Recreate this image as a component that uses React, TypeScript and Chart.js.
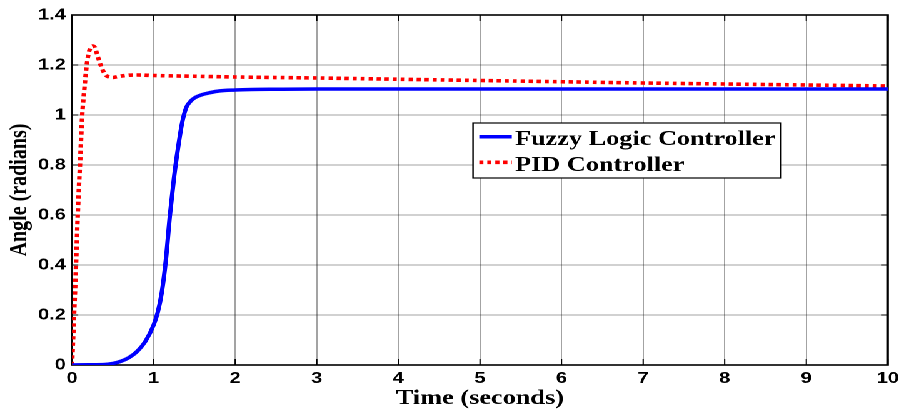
import React, { useEffect, useRef } from 'react';
import { Chart, registerables } from 'chart.js';

Chart.register(...registerables);

// ---- data ----
const fuzzyTime = [0, 0.2, 0.4, 0.5, 0.6, 0.7, 0.8, 0.9, 1.0, 1.05, 1.1, 1.15, 1.2, 1.25, 1.3, 1.35, 1.4, 1.45, 1.5, 1.6, 1.7, 1.8, 2.0, 2.2, 2.5, 3, 10];
const fuzzyAngle = [0, 0.001, 0.002, 0.006, 0.015, 0.03, 0.055, 0.095, 0.16, 0.21, 0.29, 0.42, 0.6, 0.75, 0.87, 0.97, 1.03, 1.054, 1.068, 1.082, 1.09, 1.096, 1.1, 1.102, 1.103, 1.104, 1.104];

const pidTime = [0, 0.01, 0.02, 0.025, 0.05, 0.07, 0.1, 0.125, 0.15, 0.18, 0.21, 0.25, 0.28, 0.31, 0.35, 0.4, 0.45, 0.5, 0.55, 0.65, 0.8, 1.0, 1.5, 2, 3, 4, 5, 6, 7, 8, 9, 10];
const pidAngle = [0, 0.08, 0.16, 0.2, 0.41, 0.6, 0.82, 1.0, 1.1, 1.2, 1.255, 1.276, 1.27, 1.24, 1.2, 1.165, 1.152, 1.15, 1.153, 1.158, 1.16, 1.158, 1.155, 1.152, 1.148, 1.143, 1.138, 1.133, 1.128, 1.124, 1.12, 1.116];

const xTicks = [0, 1, 2, 3, 4, 5, 6, 7, 8, 9, 10];
const yTicks = [0, 0.2, 0.4, 0.6, 0.8, 1, 1.2, 1.4];
const seriesLabels = ['Fuzzy Logic Controller', 'PID Controller'];
const xTitle = 'Time (seconds)';
const yTitle = 'Angle (radians)';

// ---- layout ----
const W = 723;
const H = 411;
const SX = 904 / W;
const SERIF = '"Liberation Serif", "Times New Roman", serif';
const SANS = '"Liberation Sans", Arial, Helvetica, sans-serif';

const framePlugin = {
  id: 'frame',
  beforeDatasetsDraw(chart: any) {
    const { ctx, chartArea: a, scales } = chart;
    ctx.save();
    ctx.strokeStyle = '#000';
    ctx.lineWidth = 1;
    const seg = (x1: number, y1: number, x2: number, y2: number) => {
      ctx.beginPath();
      ctx.moveTo(x1, y1);
      ctx.lineTo(x2, y2);
      ctx.stroke();
    };
    xTicks.forEach((v) => {
      const px = scales.x.getPixelForValue(v);
      seg(px, a.bottom, px, a.bottom - 6);
      seg(px, a.top, px, a.top + 6);
    });
    yTicks.forEach((v) => {
      const py = scales.y.getPixelForValue(v);
      seg(a.left, py, a.left + 5, py);
      seg(a.right, py, a.right - 5, py);
    });
    ctx.lineWidth = 1.6;
    ctx.strokeRect(a.left, a.top, a.right - a.left, a.bottom - a.top);
    ctx.restore();
  },
};

const legendPlugin = {
  id: 'boxLegend',
  afterDatasetsDraw(chart: any) {
    const { ctx } = chart;
    const left = 378.3;
    const right = 624.6;
    const top = 123;
    const bottom = 178;
    ctx.save();
    ctx.fillStyle = '#fff';
    ctx.fillRect(left, top, right - left, bottom - top);
    ctx.strokeStyle = '#000';
    ctx.lineWidth = 1.2;
    ctx.strokeRect(left, top, right - left, bottom - top);
    const rows = [
      { lineY: 136.7, textY: 145 },
      { lineY: 162.3, textY: 171 },
    ];
    chart.data.datasets.forEach((ds: any, i: number) => {
      const r = rows[i];
      ctx.save();
      ctx.strokeStyle = ds.borderColor;
      ctx.lineWidth = ds.borderWidth;
      ctx.setLineDash(ds.borderDash || []);
      ctx.beginPath();
      ctx.moveTo(383.3, r.lineY);
      ctx.lineTo(409.3, r.lineY);
      ctx.stroke();
      ctx.restore();
      ctx.fillStyle = '#000';
      ctx.font = `bold 21px ${SERIF}`;
      ctx.textBaseline = 'alphabetic';
      ctx.textAlign = 'left';
      ctx.fillText(ds.label, 411.9, r.textY);
    });
    ctx.restore();
  },
};

export default function App() {
  const ref = useRef<HTMLCanvasElement | null>(null);

  useEffect(() => {
    if (!ref.current) return;
    const chart = new Chart(ref.current, {
      type: 'line',
      data: {
        datasets: [
          {
            label: seriesLabels[0],
            data: fuzzyTime.map((t, i) => ({ x: t, y: fuzzyAngle[i] })),
            borderColor: '#0000ff',
            backgroundColor: '#0000ff',
            borderWidth: 3.5,
            pointRadius: 0,
            cubicInterpolationMode: 'monotone',
            fill: false,
          },
          {
            label: seriesLabels[1],
            data: pidTime.map((t, i) => ({ x: t, y: pidAngle[i] })),
            borderColor: '#ff0000',
            backgroundColor: '#ff0000',
            borderWidth: 3.6,
            borderDash: [3.3, 3.1],
            pointRadius: 0,
            cubicInterpolationMode: 'monotone',
            fill: false,
          },
        ],
      },
      options: {
        responsive: false,
        animation: false,
        devicePixelRatio: 2,
        layout: { padding: { left: 0, right: W - 710.2, top: 15, bottom: 0 } },
        plugins: {
          legend: { display: false },
          tooltip: { enabled: false },
        },
        scales: {
          x: {
            type: 'linear',
            min: 0,
            max: 10,
            afterBuildTicks: (scale: any) => {
              scale.ticks = xTicks.map((v) => ({ value: v }));
            },
            afterFit: (scale: any) => {
              scale.height = 46;
            },
            ticks: {
              color: '#000',
              padding: 4,
              maxRotation: 0,
              autoSkip: false,
              font: { family: SANS, size: 16, weight: 'bold' },
              callback: (v: any) => String(v),
            },
            grid: { color: 'rgba(0,0,0,0.36)', lineWidth: 1, drawTicks: false },
            border: { display: false },
            title: {
              display: true,
              text: xTitle,
              color: '#000',
              font: { family: SERIF, size: 21, weight: 'bold' },
              padding: { top: 0, bottom: 0 },
            },
          },
          y: {
            type: 'linear',
            min: 0,
            max: 1.4,
            afterBuildTicks: (scale: any) => {
              scale.ticks = yTicks.map((v) => ({ value: v }));
            },
            afterFit: (scale: any) => {
              scale.width = 57.6;
            },
            ticks: {
              color: '#000',
              padding: 5,
              autoSkip: false,
              font: { family: SANS, size: 16, weight: 'bold' },
              callback: (v: any) => String(v),
            },
            grid: { color: 'rgba(0,0,0,0.36)', lineWidth: 1, drawTicks: false },
            border: { display: false },
            title: {
              display: true,
              text: yTitle,
              color: '#000',
              font: { family: SERIF, size: 20, weight: 'bold' },
              padding: { top: 4, bottom: 0 },
            },
          },
        },
      } as any,
      plugins: [framePlugin, legendPlugin],
    });
    return () => chart.destroy();
  }, []);

  return (
    <div
      style={{
        position: 'absolute',
        left: 0,
        top: 0,
        width: W,
        height: H,
        background: '#fff',
        transform: `scaleX(${SX})`,
        transformOrigin: '0 0',
      }}
    >
      <canvas ref={ref} width={W} height={H} style={{ width: W, height: H, display: 'block' }} />
    </div>
  );
}
